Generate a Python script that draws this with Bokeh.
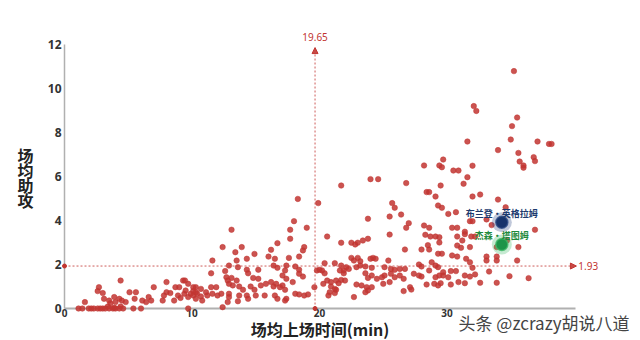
from bokeh.plotting import figure
from bokeh.models import Range1d, FixedTicker, Label, Arrow, NormalHead, ColumnDataSource
from bokeh.core.properties import value
from bokeh.embed import file_html
from bokeh.resources import INLINE

# ---- data: minutes per game (x) and assists per game (y) ----
minutes = [
    35.25, 32.1, 32.3, 35.5, 35.1, 31.6, 35.0, 37.1, 38.0, 38.2, 34.0,
    35.6, 36.8, 36.9, 35.7, 36.0, 36.0, 29.7, 29.4, 29.6, 30.5, 30.9, 32.0, 31.6, 31.3, 29.5,
    32.0, 32.6, 34.0, 29.6, 30.7, 30.1, 31.8, 32.0, 33.1, 34.6, 30.4, 30.8, 31.4, 31.4, 33.5,
    36.9, 30.8, 31.2, 31.9, 32.2, 29.4, 30.8, 31.1, 31.8, 33.9, 34.7, 35.6, 29.6, 30.4, 30.8,
    33.1, 33.9, 31.5, 31.8, 33.1, 33.9, 35.5, 29.3, 29.7, 30.3, 30.7, 32.0, 33.3, 29.4, 29.7,
    30.1, 31.4, 31.8, 32.2, 34.9, 36.4, 29.5, 30.3, 30.9, 31.4, 32.6, 33.9, 34.5,
    28.2, 21.7, 24.0, 24.6, 26.8, 28.4, 28.6, 29.1, 25.7, 25.9, 26.4, 25.5, 23.8, 27.0, 26.8,
    28.2, 28.6, 20.6, 25.5, 28.3, 28.7, 29.1, 21.7, 22.5, 22.8, 23.0, 23.4, 23.8, 26.7, 28.0,
    28.6, 28.5, 29.3, 22.5, 22.7, 23.0, 23.2, 24.0, 24.2, 24.4, 25.4, 21.2, 20.4, 21.7, 22.1,
    21.9, 22.3, 22.9, 23.2, 23.6, 24.1, 25.1, 25.6, 25.9, 26.3, 26.7, 27.8, 28.0, 28.8, 29.1,
    20.2, 20.4, 21.6, 21.9, 23.6, 23.8, 24.1, 24.5, 24.9, 25.1, 25.6, 25.9, 26.3, 26.6, 27.4,
    27.8, 28.0, 28.6, 29.1, 20.6, 20.9, 21.3, 21.7, 22.0, 20.3, 20.9, 21.2, 21.5, 20.8, 21.2,
    21.3, 20.7, 22.9, 23.3, 23.7, 23.8, 24.1, 23.6, 25.0, 25.5, 26.6, 27.1, 27.2, 28.4, 29.0,
    29.3, 22.7, 29.4, 29.3,
    18.3, 19.9, 18.0, 19.0, 17.7, 17.7, 13.1, 16.7, 12.4, 13.9, 18.8, 18.7, 16.2, 13.4, 14.9,
    16.0, 16.5, 17.6, 14.3, 11.6, 13.5, 18.4, 12.9, 16.4, 16.7, 13.6, 15.2, 17.4, 17.3, 18.1,
    18.4, 14.3, 14.4, 19.8, 20.0, 12.6, 11.5, 18.4, 18.7, 12.7, 13.1, 12.8, 12.9, 13.5, 13.2,
    14.8, 15.2, 17.1, 17.4, 17.9, 15.4, 15.8, 16.2, 16.4, 16.6, 16.9, 17.3, 17.1, 13.7, 14.0,
    14.6, 14.9, 10.3, 10.7, 11.1, 11.5, 11.9, 11.2, 11.6, 12.0, 12.3, 12.9, 12.9, 13.7, 14.3,
    14.4, 15.0, 15.7, 16.5, 16.7, 17.4, 18.1, 18.4, 18.8, 19.1, 19.6, 12.4, 12.8, 13.6, 17.3,
    10.4, 10.7, 10.8,
    4.4, 2.7, 2.6, 3.0, 1.6, 3.1, 3.5, 3.6, 3.9, 4.0, 4.3, 4.5, 5.1, 5.6, 5.5, 4.8, 6.1, 6.4,
    6.6, 7.0, 6.8, 7.7, 7.8, 8.0, 8.0, 8.3, 8.7, 9.0, 9.3, 9.45, 8.6, 8.9, 9.1, 9.4, 9.7, 9.9,
    10.1, 10.3, 9.7, 10.1, 9.5, 10.1, 10.3, 3.4, 3.9, 4.4,
    1.1, 1.4, 1.9, 2.1, 2.3, 2.6, 2.8, 3.0, 3.2, 3.5, 3.8, 4.0, 4.3, 4.6, 5.4, 6.0, 9.7,
]
assists = [
    10.79, 9.2, 8.98, 8.68, 8.29, 7.59, 7.68, 7.59, 7.48, 7.48, 7.2,
    7.07, 6.88, 6.70, 6.68, 6.5, 6.4, 6.77, 6.5, 6.42, 6.27, 6.27, 6.49, 5.97, 5.67, 5.59,
    5.09, 5.18, 4.95, 4.58, 4.38, 4.3, 3.97, 3.97, 4.05, 4.6, 3.67, 3.67, 3.49, 3.38, 3.79,
    3.58, 3.27, 3.09, 3.27, 3.27, 3.24, 2.86, 2.76, 2.79, 2.79, 3.09, 2.79, 2.49, 2.41, 2.36,
    2.36, 2.36, 2.26, 2.1, 2.18, 2.18, 2.18, 1.88, 1.65, 1.7, 1.7, 1.85, 1.68, 1.5, 1.5,
    1.42, 1.5, 1.45, 1.55, 1.47, 1.38, 1.15, 1.09, 1.2, 1.15, 1.17, 1.17, 3.0,
    6.5, 5.59, 5.88, 5.88, 5.7, 5.29, 5.29, 5.09, 4.79, 4.58, 4.27, 4.18, 4.08, 3.88, 3.67,
    3.77, 3.67, 3.27, 3.36, 3.35, 3.27, 3.27, 2.99, 2.99, 2.91, 2.99, 3.09, 3.17, 2.68, 2.68,
    2.68, 2.88, 2.49, 2.3, 2.18, 2.3, 2.15, 2.26, 2.3, 2.26, 2.18, 2.06, 2.06, 1.95, 1.88,
    1.73, 1.8, 1.88, 1.95, 1.91, 1.85, 1.88, 1.8, 1.76, 1.8, 1.8, 2.0, 1.91, 2.1, 1.95,
    1.73, 1.6, 1.73, 1.6, 1.6, 1.39, 1.5, 1.35, 1.42, 1.5, 1.58, 1.42, 1.5, 1.35, 1.58,
    1.5, 1.45, 1.73, 1.42, 1.27, 1.2, 1.27, 1.3, 1.27, 1.12, 1.0, 0.89, 1.15, 0.74, 0.7,
    0.85, 0.59, 1.09, 1.05, 0.97, 0.82, 0.97, 0.74, 1.12, 1.2, 0.79, 0.97, 0.86, 1.09, 1.12,
    1.05, 0.52, 3.0, 4.68,
    4.98, 4.79, 3.97, 3.67, 3.58, 3.17, 3.58, 2.97, 2.79, 2.79, 2.79, 2.64, 2.67, 2.56, 2.48,
    2.36, 2.26, 2.3, 2.26, 2.18, 2.18, 2.36, 1.95, 1.95, 1.85, 1.88, 1.76, 1.95, 1.73, 1.91,
    1.76, 1.76, 1.6, 1.73, 1.76, 1.7, 1.6, 1.58, 1.45, 1.42, 1.39, 1.27, 1.12, 1.27, 1.05,
    1.39, 1.35, 1.5, 1.35, 1.2, 1.05, 1.12, 1.2, 1.0, 1.12, 0.97, 0.85, 1.05, 1.0, 0.85,
    1.0, 0.85, 0.97, 0.89, 0.74, 0.97, 0.97, 0.59, 0.67, 0.59, 0.67, 0.67, 0.52, 0.59, 0.59,
    0.44, 0.59, 0.59, 0.59, 0.44, 0.44, 0.67, 0.64, 0.59, 0.64, 0.97, 0.06, 0.29, 0.33, 0.36,
    0.67, 0.55, 0.36,
    1.27, 0.97, 0.79, 0.7, 0.29, 0.44, 0.36, 0.24, 0.52, 0.29, 0.44, 0.36, 0.74, 0.74, 0.44, 0.29, 0.36, 0.29,
    0.52, 0.97, 0.36, 0.36, 0.59, 1.2, 0.74, 0.7, 0.97, 0.97, 1.27, 1.27, 0.36, 0.59, 0.48, 0.67, 0.52, 0.67,
    0.59, 0.44, 1.12, 0.97, 0.82, 0.79, 0.74, 0.09, 0.03, 0.09,
    0, 0, 0, 0, 0, 0, 0, 0, 0, 0, 0, 0, 0, 0, 0, 0, 0,
]

players = ["布兰登·英格拉姆", "杰森·塔图姆"]
player_minutes = [34.3, 34.3]
player_assists = [3.92, 2.91]
player_colors = ["#17336b", "#1c9448"]
player_glow = ["#2d4a85", "#3fb866"]
player_text_colors = ["#1c3a6e", "#1f8a3c"]

mean_minutes = 19.65
mean_assists = 1.93

x_ticks = [0, 10, 20, 30]
y_ticks = [0, 2, 4, 6, 8, 10, 12]
x_axis_max = 40.1
y_axis_max = 12

x_title = "场均上场时间(min)"
y_title_chars = ["场", "均", "助", "攻"]
watermark = "头条 @zcrazy胡说八道"

RED = "#c23531"
XS = 12.75   # px per minute
YS = 22.0    # px per assist

# ---- figure: the frame covers the whole canvas; axes sit at data 0 ----
p = figure(width=640, height=340, output_backend="svg", toolbar_location=None,
           x_range=Range1d(-64 / XS, 576 / XS), y_range=Range1d(-32 / YS, 308 / YS),
           min_border=0)
p.title.visible = False
p.outline_line_color = None
p.xgrid.visible = False
p.ygrid.visible = False
p.background_fill_color = "white"
p.border_fill_color = "white"

for ax in (p.xaxis[0], p.yaxis[0]):
    ax.fixed_location = 0
    ax.axis_line_color = "#b0b0b0"
    ax.major_tick_line_color = None
    ax.minor_tick_line_color = None
    ax.major_tick_out = 0
    ax.major_tick_in = 0
    ax.major_label_text_font = "Noto Sans"
    ax.major_label_text_font_style = "bold"
    ax.major_label_text_color = "#333333"
    ax.axis_label_text_font = "Noto Sans CJK SC"
    ax.axis_label_text_font_style = "bold"
    ax.axis_label_text_color = "#222222"
    ax.axis_label_text_font_size = "16px"
    ax.level = "underlay"

p.xaxis.ticker = FixedTicker(ticks=x_ticks)
p.yaxis.ticker = FixedTicker(ticks=y_ticks)
p.xaxis.bounds = (0, x_axis_max)
p.yaxis.bounds = (0, y_axis_max)
p.xaxis.axis_line_width = 2
p.yaxis.axis_line_width = 1.5
p.xaxis.major_label_text_font_size = "10px"
p.yaxis.major_label_text_font_size = "12px"
p.xaxis.major_label_standoff = 0
p.yaxis.major_label_standoff = 3
p.xaxis.axis_label = x_title
p.xaxis.axis_label_standoff = -3

# y title as stacked characters (15 px apart, centred at 177 px from the top)
for i, ch in enumerate(y_title_chars):
    p.add_layout(Label(x=-39 / XS, y=(308 - 154 - 15.3 * i) / YS, text=ch, text_align="center",
                       text_baseline="middle", text_font="Noto Sans CJK SC",
                       text_font_style="bold", text_font_size="16px", text_color="#222222"))

# scatter of all players
p.scatter(minutes, assists, size=5.5, fill_color=RED, fill_alpha=0.85, line_color=RED, line_alpha=0.5)

# mean marker lines
head_v = NormalHead(size=6, fill_color=RED, line_color=RED, fill_alpha=0.9)
p.add_layout(Arrow(end=head_v, x_start=mean_minutes, y_start=0, x_end=mean_minutes, y_end=11.86,
                   line_color=RED, line_alpha=0.8, line_width=1, line_dash="2 2"))
head_h = NormalHead(size=6, fill_color=RED, line_color=RED, fill_alpha=0.9)
p.add_layout(Arrow(end=head_h, x_start=0, y_start=mean_assists, x_end=40.15, y_end=mean_assists,
                   line_color=RED, line_alpha=0.8, line_width=1, line_dash="2 2"))
p.scatter([0, mean_minutes], [mean_assists, 0], size=4, fill_color=RED, line_color=RED)
p.add_layout(Label(x=mean_minutes, y=12.32, text=f"{mean_minutes:.2f}", text_align="center",
                   text_baseline="middle", text_font_size="10px", text_color=RED,
                   text_font="Noto Sans"))
p.add_layout(Label(x=40.3, y=mean_assists, text=f"{mean_assists:.2f}", text_align="left",
                   text_baseline="middle", text_font_size="10px", text_color=RED,
                   text_font="Noto Sans"))

# highlighted players
src = ColumnDataSource(dict(x=player_minutes, y=player_assists, name=players,
                            c=player_colors, g=player_glow, t=player_text_colors))
p.scatter("x", "y", source=src, size=20, fill_color="g", fill_alpha=0.3, line_color=None)
p.scatter("x", "y", source=src, size=12, fill_color="c", line_color="g", line_alpha=0.8, line_width=1.5)
p.text("x", "y", text="name", source=src, text_color="t", text_align="center",
       text_baseline="middle", y_offset=-9, text_font_size="9px", text_font_style="bold",
       text_font=value("Noto Sans CJK SC"))

# watermark
p.add_layout(Label(x=458 / XS - 64 / XS, y=-14 / YS, text=watermark,
                   text_baseline="middle", text_align="left", text_font_size="17px",
                   text_color="#444444", text_font="Noto Sans CJK SC"))

open("out.html", "w").write(file_html(p, INLINE))
